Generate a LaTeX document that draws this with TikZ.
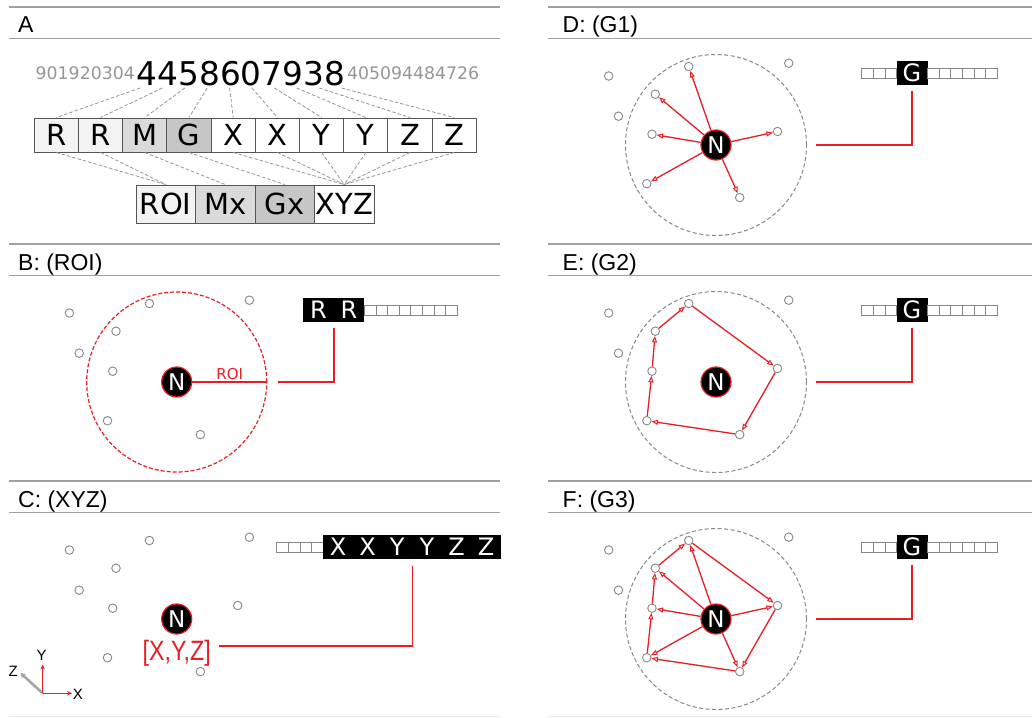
\documentclass[tikz,border=0pt]{standalone}
\usepackage{fontspec}
\setmainfont{Liberation Sans}
\newfontfamily\dvs{DejaVu Sans}
\usepackage{graphicx}
\usetikzlibrary{arrows.meta,calc}
\definecolor{myred}{RGB}{232,30,36}
\definecolor{dotgray}{RGB}{135,135,135}
\definecolor{linegray}{RGB}{160,160,160}
\definecolor{dashgray}{RGB}{150,150,150}
\definecolor{cellgray}{RGB}{85,85,85}
\definecolor{numgray}{RGB}{150,150,150}
\definecolor{fillR}{RGB}{243,243,243}
\definecolor{fillM}{RGB}{218,218,218}
\definecolor{fillG}{RGB}{198,198,198}
\tikzset{
 panelline/.style={draw=linegray, line width=1.6pt},
 ptitle/.style={anchor=base west, inner sep=0pt, font=\fontsize{23}{23}\selectfont},
 cellA/.style={draw=cellgray, line width=1pt, minimum width=44.2pt, minimum height=34pt, inner sep=0pt, font=\dvs\fontsize{29}{29}\selectfont},
 cellB/.style={cellA, minimum width=59.5pt, minimum height=38pt},
 conn/.style={draw=dashgray, line width=0.8pt, dash pattern=on 3.5pt off 2pt},
 dot/.style={circle, draw=dotgray, fill=white, line width=0.9pt, minimum size=8.5pt, inner sep=0pt},
 nnode/.style={circle, fill=black, draw=myred, line width=1.2pt, minimum size=30pt, inner sep=0pt, text=white, font=\dvs\fontsize{23}{23}\selectfont},
 rl/.style={draw=myred, line width=1.6pt},
 arr/.style={draw=myred, line width=1.3pt, -{Triangle[open, length=6.5pt, width=5pt, line width=1pt]}},
 scell/.style={draw=dotgray, fill=white, line width=0.8pt, minimum width=11.6pt, minimum height=10pt, inner sep=0pt},
 bcell/.style={fill=black, minimum width=30pt, minimum height=24.5pt, inner sep=0pt, text=white, font=\dvs\fontsize{24}{24}\selectfont},
 roicirc/.style={circle, draw=myred, line width=1.2pt, dash pattern=on 4pt off 2pt, minimum size=180pt, inner sep=0pt},
 gcirc/.style={circle, draw=dotgray, line width=1pt, dash pattern=on 4pt off 2.5pt, minimum size=181pt, inner sep=0pt},
 axlbl/.style={inner sep=0pt, font=\fontsize{15}{15}\selectfont},
}
\newcommand\drawdots[1]{%
 \node[dot] (#1o1) at (-107.3,-69) {};
 \node[dot] (#1p1) at (-27.3,-78.5) {};
 \node[dot] (#1o2) at (72.7,-81.8) {};
 \node[dot] (#1p2) at (-60.7,-50.8) {};
 \node[dot] (#1o3) at (-97.5,-28.8) {};
 \node[dot] (#1p3) at (-64,-10.8) {};
 \node[dot] (#1p5) at (-69.2,38.7) {};
 \node[dot] (#1p6) at (23.7,52.6) {};
}
\newcommand\gstrip[1]{%
 \foreach \i in {1,2,3} \node[scell] (#1s\i) at ({145.7+11.6*(\i-0.5)},-72) {};
 \node[bcell, minimum width=31pt] (#1g) at (196,-72) {G};
 \foreach \i in {1,...,6} \node[scell] (#1t\i) at ({211.5+11.6*(\i-0.5)},-72) {};
 \coordinate (#1cs) at (100,0);
 \draw[rl, shorten >=6pt] (#1cs) -| (#1g.south);
}
\newcommand\spokes[1]{%
 \foreach \p in {p1,p2,p3,p4,p5,p6} \draw[arr] (#1N) -- (#1\p);
}
\newcommand\ring[1]{%
 \draw[arr] (#1p5) -- (#1p3);
 \draw[arr] (#1p3) -- (#1p2);
 \draw[arr] (#1p2) -- (#1p1);
 \draw[arr] (#1p1) -- (#1p4);
 \draw[arr] (#1p4) -- (#1p6);
 \draw[arr] (#1p6) -- (#1p5);
}
\begin{document}
\begin{tikzpicture}[x=1pt,y=-1pt]
\fill[white] (0,0) rectangle (1032,717);
\useasboundingbox (0,0) rectangle (1032,717);

% panel frame lines
\foreach \t in {7,244,481} {
  \draw[panelline] (9,\t) -- (500,\t);
  \draw[panelline] (9,\t+31.5) -- (500,\t+31.5);
  \draw[panelline] (548,\t) -- (1032,\t);
  \draw[panelline] (548,\t+31.5) -- (1032,\t+31.5);
}
\draw[draw=black!8, line width=1pt] (9,716) -- (500,716);
\draw[draw=black!8, line width=1pt] (548,716) -- (1032,716);

% titles
\node[ptitle] (tA) at (18,33) {A};
\node[ptitle] (tB) at (18,270) {B: (ROI)};
\node[ptitle] (tC) at (18,507) {C: (XYZ)};
\node[ptitle] (tD) at (562.5,33) {D: (G1)};
\node[ptitle] (tE) at (562.5,270) {E: (G2)};
\node[ptitle] (tF) at (562.5,507) {F: (G3)};

% ---------- panel A ----------
\node[inner sep=0pt, font=\dvs\fontsize{32.7}{33}\selectfont] (num) at (241,73.5) {4458607938};
\node[inner sep=0pt, anchor=east, text=numgray, font=\dvs\fontsize{17.3}{17}\selectfont] (numL) at (135,73.5) {901920304};
\node[inner sep=0pt, anchor=west, text=numgray, font=\dvs\fontsize{17.3}{17}\selectfont] (numR) at (347,73.5) {405094484726};
\foreach \i in {1,...,10} \coordinate (d\i) at ({140+22.4*(\i-1)},88);
\foreach \l/\f [count=\i] in {R/fillR,R/fillR,M/fillM,G/fillG,X/white,X/white,Y/white,Y/white,Z/white,Z/white}
  \node[cellA, fill=\f] (c\i) at ({34.3+44.2*(\i-0.5)},135) {\l};
\node[cellB, fill=fillR] (roi) at (165.75,204) {ROI};
\node[cellB, fill=fillM] (mx) at (225.25,204) {Mx};
\node[cellB, fill=fillG] (gx) at (284.75,204) {Gx};
\node[cellB, fill=white] (xyz) at (344.25,204) {XYZ};
\foreach \i in {1,...,10} \draw[conn] (d\i) -- (c\i.north);
\draw[conn] (c1.south) -- (roi.north);
\draw[conn] (c2.south) -- (roi.north);
\draw[conn] (c3.south) -- (mx.north);
\draw[conn] (c4.south) -- (gx.north);
\foreach \i in {5,...,10} \draw[conn] (c\i.south) -- (xyz.north);

% ---------- panel B ----------
\begin{scope}[shift={(176.7,382)}]
  \node[roicirc] (Bcirc) at (0,0) {};
  \drawdots{B}
  \node[nnode] (BN) at (0,0) {N};
  \draw[rl, line width=1.2pt] (BN.east) -- (Bcirc.east)
     node[midway, above=2pt, inner sep=0pt, text=myred, font=\dvs\fontsize{15}{15}\selectfont] (Broi) {ROI};
  \node[bcell, minimum width=30.5pt] (Bb1) at (141.85,-72) {R};
  \node[bcell, minimum width=30.5pt] (Bb2) at (172.35,-72) {R};
  \foreach \i in {1,...,8} \node[scell] (Bs\i) at ({187.6+11.6*(\i-0.5)},-72) {};
  \coordinate (Bcs) at (101,0);
  \draw[rl, shorten >=6pt] (Bcs) -| (Bb1.south east);
\end{scope}

% ---------- panel C ----------
\begin{scope}[shift={(176.7,619)}]
  \drawdots{C}
  \node[dot] (Cp4) at (61,-13.5) {};
  \node[nnode] (CN) at (0,0) {N};
  \node[anchor=base, inner sep=0pt, text=myred, font=\fontsize{28}{28}\selectfont] (Clbl) at (0,41) {\scalebox{0.83}[1]{[X,Y,Z]}};
  \foreach \i in {1,...,4} \node[scell, minimum width=11.65pt] (Cs\i) at ({100+11.65*(\i-0.5)},-72) {};
  \foreach \l [count=\i] in {X,X,Y,Y,Z,Z} \node[bcell, minimum width=29.6pt] (Cb\i) at ({146.6+29.6*(\i-0.5)},-72) {\l};
  \coordinate (Ccs) at (42.5,27);
  \draw[rl, shorten >=7pt] (Ccs) -| (Cb3.south east);
\end{scope}

% axes
\coordinate (ax0) at (42.7,693.3);
\coordinate (axX) at (72,693.3);
\coordinate (axY) at (42.7,664.5);
\coordinate (axZ) at (20.5,673);
\draw[draw=black!35, line width=2.6pt, -{Stealth[length=5pt,width=6pt]}] (ax0) -- (axZ);
\draw[draw=myred, line width=1.1pt, -{Stealth[length=5pt,width=4.5pt]}] (ax0) -- (axX);
\draw[draw=myred, line width=1.1pt, -{Stealth[length=5pt,width=4.5pt]}] (ax0) -- (axY);
\node[axlbl] (lX) at (78,694.5) {X};
\node[axlbl] (lY) at (41.7,655) {Y};
\node[axlbl] (lZ) at (13.3,671.5) {Z};

% ---------- panel D ----------
\begin{scope}[shift={(716,145)}]
  \node[gcirc] (Dcirc) at (0,0) {};
  \drawdots{D}
  \node[dot] (Dp4) at (61.5,-13.5) {};
  \node[nnode] (DN) at (0,0) {N};
  \spokes{D}
  \gstrip{D}
\end{scope}

% ---------- panel E ----------
\begin{scope}[shift={(716,382)}]
  \node[gcirc] (Ecirc) at (0,0) {};
  \drawdots{E}
  \node[dot] (Ep4) at (61.5,-13.5) {};
  \node[nnode] (EN) at (0,0) {N};
  \ring{E}
  \gstrip{E}
\end{scope}

% ---------- panel F ----------
\begin{scope}[shift={(716,619)}]
  \node[gcirc] (Fcirc) at (0,0) {};
  \drawdots{F}
  \node[dot] (Fp4) at (61.5,-13.5) {};
  \node[nnode] (FN) at (0,0) {N};
  \spokes{F}
  \ring{F}
  \gstrip{F}
\end{scope}
\end{tikzpicture}
\end{document}
